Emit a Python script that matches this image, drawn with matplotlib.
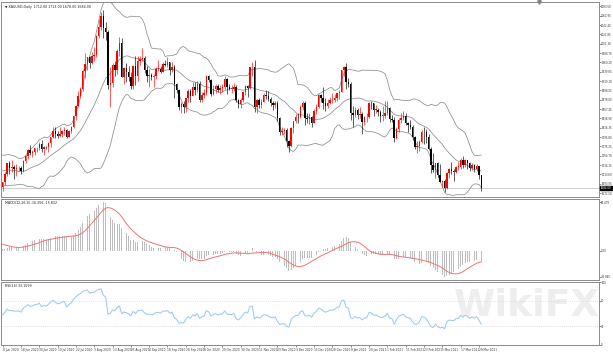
import numpy as np
import pandas as pd
import matplotlib
matplotlib.use("Agg")
import matplotlib.pyplot as plt
import matplotlib.transforms as mtrans

# ---------------- data (XAUUSD daily) ----------------
# closes before the visible window, used only to warm up the indicators
warmup_close = [1514, 1528, 1477, 1470, 1498, 1566, 1633, 1611, 1630, 1617, 1622, 1577,
                1591, 1613, 1620, 1660, 1648, 1646, 1684, 1714, 1727, 1717, 1717, 1683,
                1695, 1686, 1713, 1730, 1726, 1714, 1706, 1713, 1686, 1700, 1702, 1705,
                1685, 1726, 1703, 1697, 1702, 1715, 1731, 1744, 1734, 1745, 1747, 1725,
                1735, 1729, 1709, 1708, 1720, 1730, 1739, 1727, 1699, 1714, 1684]

opens = [
    1685, 1697, 1715, 1738, 1728, 1730, 1726, 1727, 1727, 1722, 1743, 1754, 1768, 1761, 1763, 1771, 1772,
    1781, 1769, 1775, 1773, 1783, 1795, 1809, 1803, 1798, 1802, 1809, 1811, 1796, 1810, 1817, 1842, 1865, 1887, 1902, 1941, 1957, 1971, 1959,
    1975, 1976, 2019, 2039, 2063, 2035, 2028, 1911, 1915, 1954, 1944, 1985, 2002, 1929, 1947, 1940, 1929, 1908, 1953, 1930, 1964,
    1968, 1970, 1944, 1930, 1933, 1929, 1931, 1946, 1946, 1940, 1957, 1954, 1960, 1944, 1950, 1912, 1900, 1863, 1868, 1861, 1881, 1897,
    1886, 1906, 1899, 1913, 1878, 1888, 1893, 1930, 1922, 1891, 1902, 1908, 1899, 1904, 1906, 1924, 1905, 1902, 1902, 1907, 1877, 1868,
    1878, 1894, 1909, 1904, 1949, 1951, 1862, 1877, 1866, 1873, 1888, 1887, 1880, 1870, 1866, 1871, 1837, 1807, 1810, 1811, 1788,
    1776, 1815, 1831, 1840, 1839, 1863, 1871, 1838, 1836, 1840, 1827, 1854, 1862, 1888, 1882, 1871, 1864, 1870, 1877, 1877, 1882, 1893,
    1895, 1944, 1950, 1918, 1913, 1849, 1844, 1856, 1845, 1847, 1829, 1840, 1840, 1871, 1870, 1856, 1856, 1850, 1843, 1843,
    1848, 1860, 1835, 1834, 1793, 1814, 1833, 1838, 1843, 1826, 1823, 1819, 1796, 1775, 1776, 1784, 1808, 1806, 1797, 1770,
    1734, 1723, 1738, 1712, 1697, 1700, 1683, 1716, 1726, 1722, 1720, 1731, 1731, 1746, 1735, 1745, 1738, 1727, 1734, 1726, 1732, 1712]

highs = [
    1698, 1720, 1739, 1744, 1745, 1735, 1736, 1733, 1732, 1746, 1756, 1769, 1779, 1768, 1772, 1775, 1785,
    1789, 1776, 1777, 1786, 1796, 1818, 1818, 1809, 1817, 1812, 1818, 1813, 1812, 1821, 1843, 1866, 1898, 1905, 1945, 1981, 1973, 1975, 1984,
    1993, 2020, 2055, 2070, 2075, 2049, 2031, 1949, 1959, 1964, 1989, 2015, 2014, 1950, 1959, 1953, 1939, 1954, 1975, 1975, 1975,
    1992, 1974, 1953, 1946, 1937, 1935, 1951, 1965, 1952, 1962, 1965, 1973, 1962, 1960, 1955, 1915, 1902, 1873, 1875, 1882, 1901, 1901,
    1917, 1917, 1919, 1920, 1894, 1902, 1933, 1933, 1924, 1910, 1912, 1913, 1911, 1913, 1931, 1925, 1913, 1910, 1914, 1911, 1880, 1882,
    1897, 1911, 1911, 1951, 1960, 1966, 1879, 1881, 1880, 1892, 1899, 1897, 1883, 1875, 1875, 1876, 1839, 1818, 1816, 1816, 1790,
    1817, 1832, 1846, 1848, 1866, 1875, 1875, 1848, 1849, 1842, 1857, 1869, 1891, 1891, 1907, 1882, 1880, 1884, 1892, 1890, 1893, 1900,
    1944, 1953, 1959, 1925, 1917, 1865, 1863, 1860, 1863, 1852, 1842, 1849, 1872, 1875, 1871, 1867, 1860, 1855, 1865, 1875,
    1875, 1863, 1845, 1839, 1818, 1838, 1849, 1854, 1849, 1828, 1834, 1823, 1798, 1787, 1790, 1812, 1817, 1813, 1803, 1774,
    1760, 1739, 1740, 1736, 1701, 1703, 1719, 1727, 1740, 1726, 1732, 1741, 1749, 1755, 1747, 1746, 1741, 1738, 1737, 1736, 1733, 1713]

lows = [
    1677, 1690, 1711, 1715, 1718, 1704, 1711, 1721, 1715, 1720, 1738, 1748, 1757, 1752, 1756, 1763, 1767,
    1762, 1757, 1770, 1764, 1775, 1794, 1794, 1793, 1795, 1797, 1801, 1794, 1795, 1804, 1815, 1834, 1863, 1883, 1898, 1925, 1944, 1947, 1957,
    1964, 1973, 2013, 2032, 2014, 2010, 1902, 1863, 1907, 1930, 1934, 1975, 1927, 1912, 1916, 1919, 1902, 1901, 1911, 1920, 1955,
    1963, 1937, 1916, 1907, 1922, 1906, 1924, 1942, 1937, 1939, 1952, 1951, 1932, 1939, 1882, 1893, 1855, 1849, 1848, 1851, 1872, 1874,
    1886, 1888, 1895, 1873, 1872, 1882, 1889, 1917, 1886, 1888, 1892, 1895, 1891, 1896, 1902, 1891, 1899, 1893, 1897, 1872, 1860, 1860,
    1873, 1888, 1883, 1902, 1931, 1850, 1848, 1859, 1860, 1872, 1879, 1876, 1865, 1855, 1859, 1832, 1800, 1801, 1803, 1775, 1764,
    1775, 1804, 1826, 1827, 1837, 1856, 1823, 1826, 1824, 1819, 1826, 1847, 1859, 1874, 1857, 1854, 1859, 1868, 1870, 1874, 1875, 1880,
    1895, 1931, 1901, 1906, 1834, 1817, 1841, 1836, 1837, 1802, 1823, 1829, 1837, 1857, 1842, 1848, 1842, 1830, 1832, 1838,
    1844, 1830, 1830, 1785, 1791, 1806, 1826, 1834, 1822, 1808, 1813, 1790, 1770, 1760, 1765, 1782, 1780, 1782, 1767, 1717,
    1718, 1705, 1707, 1697, 1687, 1676, 1681, 1705, 1714, 1699, 1716, 1723, 1725, 1727, 1730, 1726, 1722, 1723, 1719, 1722, 1704, 1678]

closes = [
    1697, 1715, 1738, 1728, 1730, 1726, 1727, 1727, 1722, 1743, 1754, 1768, 1761, 1763, 1771, 1772, 1781,
    1769, 1775, 1773, 1783, 1795, 1809, 1803, 1798, 1802, 1809, 1811, 1796, 1810, 1817, 1842, 1865, 1887, 1902, 1941, 1957, 1971, 1959, 1975,
    1976, 2019, 2039, 2063, 2035, 2028, 1911, 1915, 1954, 1944, 1985, 2002, 1929, 1947, 1940, 1929, 1908, 1953, 1930, 1964, 1968,
    1970, 1944, 1930, 1933, 1929, 1931, 1946, 1946, 1940, 1957, 1954, 1960, 1944, 1950, 1912, 1900, 1863, 1868, 1861, 1881, 1897, 1886,
    1906, 1899, 1913, 1878, 1888, 1893, 1930, 1922, 1891, 1902, 1908, 1899, 1904, 1906, 1924, 1905, 1902, 1902, 1907, 1877, 1868, 1878,
    1894, 1909, 1904, 1949, 1951, 1862, 1877, 1866, 1873, 1888, 1887, 1880, 1870, 1866, 1871, 1837, 1807, 1810, 1811, 1788, 1776,
    1815, 1831, 1840, 1839, 1863, 1871, 1838, 1836, 1840, 1827, 1854, 1862, 1888, 1882, 1871, 1864, 1870, 1877, 1877, 1882, 1893, 1895,
    1944, 1950, 1918, 1913, 1849, 1844, 1856, 1845, 1847, 1829, 1840, 1840, 1871, 1870, 1856, 1856, 1850, 1843, 1843, 1848,
    1860, 1835, 1834, 1793, 1814, 1833, 1838, 1843, 1826, 1823, 1819, 1796, 1775, 1776, 1784, 1808, 1806, 1797, 1770, 1734,
    1723, 1738, 1712, 1697, 1700, 1683, 1716, 1726, 1722, 1720, 1731, 1731, 1746, 1735, 1745, 1738, 1727, 1734, 1726, 1732, 1712, 1684]

# trading days shown (weekdays, broker closed on Dec 25 and Jan 1)
dates = [d for d in pd.bdate_range("2020-06-08", "2021-03-30")
         if not ((d.month == 12 and d.day == 25) or (d.month == 1 and d.day == 1))]

symbol_title = "XAUUSD,Daily"
label_every = 8

# ---------------- indicators ----------------
o = np.array(opens, float); h = np.array(highs, float)
l = np.array(lows, float); c = np.array(closes, float)
n = len(c)
x = np.arange(n)
full = pd.Series(np.concatenate([warmup_close, closes]).astype(float))
nw = len(warmup_close)

mid = full.rolling(20).mean()
sd = full.rolling(20).std(ddof=0)
bb_mid = mid.values[nw:]; bb_up = (mid + 2 * sd).values[nw:]; bb_lo = (mid - 2 * sd).values[nw:]

ema12 = full.ewm(span=12, adjust=False).mean()
ema26 = full.ewm(span=26, adjust=False).mean()
macd = ema12 - ema26
signal = macd.rolling(9).mean()
macd_v = macd.values[nw:]; sig_v = signal.values[nw:]

delta = full.diff()
gain = delta.clip(lower=0).ewm(alpha=1 / 14, adjust=False).mean()
loss = (-delta.clip(upper=0)).ewm(alpha=1 / 14, adjust=False).mean()
rsi = (100 - 100 / (1 + gain / loss)).values[nw:]

# ---------------- figure ----------------
W, H = 613, 354
fig = plt.figure(figsize=(W / 100, H / 100), dpi=100)
fig.patch.set_facecolor("white")

def frac(x0, y0, x1, y1):
    return [x0 / W, 1 - y1 / H, (x1 - x0) / W, (y1 - y0) / H]

XR = 599
ax = fig.add_axes(frac(1, 2, XR, 197))
axm = fig.add_axes(frac(1, 199, XR, 280))
axr = fig.add_axes(frac(1, 282, XR, 345))
xmax = -0.7 + (XR - 1) / 2.29

FS = 1.9     # axis labels
HFS = 2.3    # panel headers
spine_col = "#8a8a8a"
for a in (ax, axm, axr):
    a.set_facecolor("white")
    for s in a.spines.values():
        s.set_color(spine_col)
        s.set_linewidth(0.7)
    a.yaxis.tick_right()
    a.tick_params(axis="y", labelsize=FS, length=1.2, width=0.4, pad=0.4, colors="#333333")
    a.set_xlim(-0.7, xmax)
    a.tick_params(axis="x", bottom=False, labelbottom=False)

# main: candles + bollinger
up = c >= o
bull = "#ff0000"; bear = "#000000"
cols = np.where(up, bull, bear)
ax.vlines(x, l, h, colors=cols, linewidth=0.45, zorder=3)
body_b = np.minimum(o, c)
body_h = np.maximum(np.abs(c - o), 0.8)
ax.bar(x, body_h, bottom=body_b, width=0.62, color=cols, linewidth=0, zorder=4)
bb_col = "#8c8c8c"
for band in (bb_up, bb_mid, bb_lo):
    ax.plot(x, band, color=bb_col, lw=0.55, zorder=2)
ax.set_ylim(1664, 2093)
yt = np.arange(1672.50, 2093, 20.55)
yt = yt[np.abs(yt - c[-1]) > 6]
ax.set_yticks(yt)
ax.set_yticklabels([f"{v:.2f}" for v in yt])
ax.axhline(c[-1], color="#c8c8c8", lw=0.6, zorder=1)
trans = mtrans.blended_transform_factory(ax.transAxes, ax.transData)
ax.text(1.003, c[-1], f"{c[-1]:.2f}", transform=trans, fontsize=FS, color="white",
        va="center", ha="left", zorder=6,
        bbox=dict(boxstyle="square,pad=0.15", fc="black", ec="black"))
ax.text(0.006, 0.985, f"\u25bc {symbol_title}  {o[-1]:.2f} {h[-1]:.2f} {l[-1]:.2f} {c[-1]:.2f}",
        transform=ax.transAxes, fontsize=HFS, va="top", ha="left", color="#222222")
ax.plot([0.9], [1.0], marker="v", ms=2.5, color="#808080", transform=ax.transAxes,
        clip_on=False, zorder=6)

# MACD panel
axm.bar(x, macd_v, width=0.35, color="#bdbdbd", linewidth=0, zorder=2)
axm.plot(x, sig_v, color="#f27272", lw=0.7, zorder=3)
mx, mn = np.nanmax(macd_v), np.nanmin(macd_v)
pad = (mx - mn) * 3 / 75
axm.set_ylim(mn - pad, mx + pad)
axm.set_yticks([mx, 0, mn])
axm.set_yticklabels([f"{mx:.3f}", "0.00", f"{mn:.3f}"])
axm.text(0.006, 0.975, f"MACD(12,26,9) {macd_v[-1]:.3f} {sig_v[-1]:.3f}",
         transform=axm.transAxes, fontsize=HFS, va="top", ha="left", color="#222222")

# RSI panel
axr.plot(x, rsi, color="#9cc8f5", lw=0.75, zorder=3)
for lev in (70, 30):
    axr.axhline(lev, color="#c8c8c8", lw=0.5, ls=(0, (1, 2)), zorder=1)
axr.set_ylim(0, 100)
axr.set_yticks([100, 70, 30, 0])
axr.set_yticklabels(["100", "70", "30", "0"])
axr.text(0.006, 0.97, f"RSI(14) {rsi[-1]:.4f}", transform=axr.transAxes, fontsize=HFS,
         va="top", ha="left", color="#222222")

# date labels
tick_idx = list(range(0, n, label_every))
axr.set_xticks(tick_idx)
axr.set_xticklabels([f"{dates[i].day} {dates[i]:%b %Y}" for i in tick_idx],
                    fontsize=2.1, ha="left", color="#333333")
axr.tick_params(axis="x", bottom=True, labelbottom=True, length=1.5, width=0.4, pad=1.0,
                colors="#333333")

# watermark
fig.text(0.86, 0.135, "WikiFX", fontsize=27, fontweight="bold", color="#cfcfcf",
         alpha=0.35, ha="center", va="center", zorder=10)

fig.savefig("out.png", dpi=100, facecolor="white")
